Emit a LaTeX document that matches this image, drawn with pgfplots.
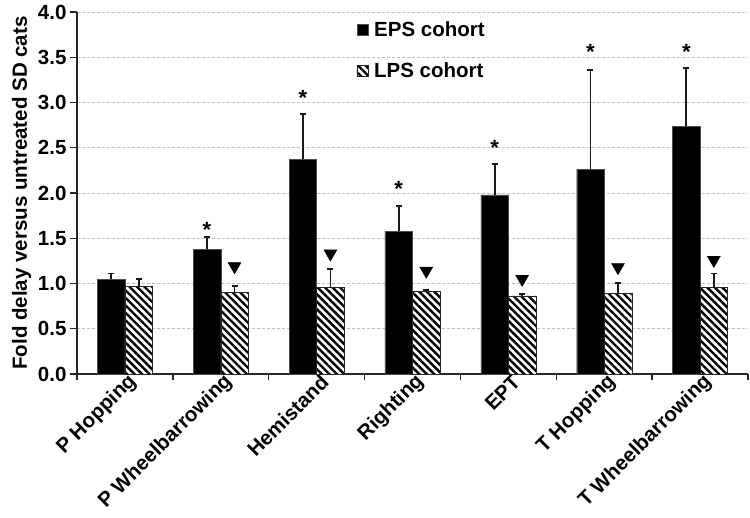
\documentclass[border=0pt]{standalone}
\usepackage{pgfplots}
\pgfplotsset{compat=1.18}
\usepackage{fontspec}
\setmainfont{Liberation Sans}
\usetikzlibrary{patterns.meta}
\begin{document}
\begin{tikzpicture}
\begin{axis}[
  scale only axis, width=671pt, height=362pt,
  font=\fontsize{20.5}{24}\selectfont\bfseries,
  ymin=0, ymax=4, ytick={0,0.5,1,1.5,2,2.5,3,3.5,4},
  /pgf/number format/.cd, fixed, fixed zerofill, precision=1, assume math mode=true, /pgfplots/.cd,
  xmin=-0.5, xmax=6.5,
  xtick={0,...,6},
  xticklabels={P Hopping, P Wheelbarrowing, Hemistand, Righting, EPT, T Hopping, T Wheelbarrowing},
  minor xtick={-0.5,0.5,1.5,2.5,3.5,4.5,5.5,6.5},
  major x tick style={draw=none},
  minor x tick style={line width=1.3pt, black!85},
  y tick style={line width=1.3pt, black!85},
  major tick length=7pt, minor tick length=6pt,
  tick align=outside,
  axis lines*=left,
  axis line style={line width=1.4pt, black!85},
  ymajorgrids,
  y grid style={densely dashed, black!25, line width=0.9pt},
  xticklabel style={rotate=45, anchor=east, xshift=11pt, yshift=-4pt},
  ylabel={Fold delay versus untreated SD cats},
  legend style={at={(0.412,0.985)}, anchor=north west, draw=none, fill=none,
    row sep=21pt, font=\fontsize{20.5}{24}\selectfont\bfseries},
  legend cell align=left,
  legend image code/.code={\draw[#1,line width=0.6pt] (0pt,-5.5pt) rectangle (11pt,5.5pt); \path (15pt,0pt);},
  every error bar/.append style={line width=1.8pt, draw=black!90},
  error bars/error mark options={rotate=90, mark size=3pt, line width=1.8pt, draw=black!90},
]
\coordinate (bl) at (rel axis cs:0,0);
\coordinate (tr) at (rel axis cs:1,1);
% bars are plotted at their own centres (category -/+ half a bar), so the error bars sit on them
\addplot[ybar, bar width=0.287, bar shift=0pt, fill=black, draw=black!70,
  error bars/.cd, y dir=plus, y explicit]
  coordinates {(-0.1435,1.046) +- (0,0.064) (0.8565,1.378) +- (0,0.139) (1.8565,2.372) +- (0,0.498)
    (2.8565,1.58) +- (0,0.276) (3.8565,1.978) +- (0,0.342) (4.8565,2.265) +- (0,1.091) (5.8565,2.74) +- (0,0.638)};
\addplot[ybar, bar width=0.287, bar shift=0pt, fill=white, draw=black!85,
  postaction={pattern={Lines[angle=-45, distance=5.3pt, line width=2.4pt]}},
  error bars/.cd, y dir=plus, y explicit]
  coordinates {(0.1435,0.965) +- (0,0.081) (1.1435,0.90) +- (0,0.076) (2.1435,0.954) +- (0,0.21)
    (3.1435,0.917) +- (0,0.015) (4.1435,0.862) +- (0,0.018) (5.1435,0.89) +- (0,0.119) (6.1435,0.954) +- (0,0.156)};
\legend{EPS cohort, LPS cohort}
\addplot[only marks, mark=text, text mark={\fontsize{22}{22}\selectfont\bfseries *}, forget plot]
  coordinates {(0.8565,1.59) (1.8565,3.05) (2.8565,2.05) (3.8565,2.50) (4.8565,3.56) (5.8565,3.56)};
\addplot[only marks, mark=triangle*, mark size=7.5pt, mark options={rotate=180, fill=black, draw=black}, forget plot]
  coordinates {(1.1435,1.19) (2.1435,1.33) (3.1435,1.14) (4.1435,1.05) (5.1435,1.18) (6.1435,1.26)};
\end{axis}
\pgfresetboundingbox
\path[use as bounding box] ([shift={(-77pt,-143pt)}]bl) rectangle ([shift={(2pt,12pt)}]tr);
\end{tikzpicture}
\end{document}
